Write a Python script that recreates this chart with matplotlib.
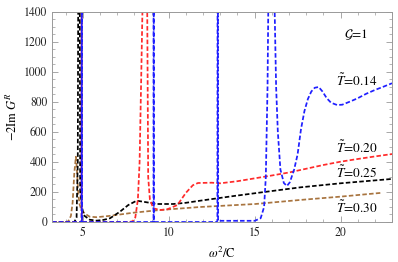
import matplotlib
matplotlib.use("Agg")
import matplotlib.pyplot as plt
from matplotlib.ticker import MultipleLocator

plt.rcParams['font.family'] = ['STIXGeneral', 'DejaVu Serif']
plt.rcParams['mathtext.fontset'] = 'stix'

# ---- data ----
x_014 = [3.2, 4.90, 4.925, 4.935, 4.945, 4.97, 9.08, 9.11, 9.12, 9.13, 9.16,
         12.78, 12.83, 12.85, 12.87, 12.92, 15.0, 15.35, 15.55, 15.65, 15.75, 15.8,
         16.15, 16.25, 16.35, 16.5, 16.7, 16.88, 17.05, 17.3, 17.5, 17.7, 17.9,
         18.1, 18.3, 18.5, 18.73, 18.95, 19.2, 19.45, 19.8, 20.1, 20.6, 21.0,
         21.5, 22.0, 22.5, 23.0]
y_014 = [0, 0, 0, 3000, 0, 0, 0, 0, 3000, 0, 0,
         0, 8, 3000, 8, 8, 8, 25, 100, 300, 900, 1500,
         1500, 900, 600, 350, 260, 240, 265, 350, 450, 620, 740,
         820, 870, 895, 900, 870, 825, 795, 780, 782, 805, 825,
         855, 880, 902, 925]

x_020 = [3.2, 4.90, 4.92, 4.93, 4.94, 4.96, 7.7, 7.9, 8.05, 8.2, 8.3, 8.4, 8.48,
         8.74, 8.8, 8.9, 9.1, 9.5, 9.9, 10.5, 11.0, 11.4, 11.7, 12.5, 13.0,
         14.0, 15.0, 16.0, 17.0, 18.0, 19.0, 20.0, 21.0, 22.0, 23.0]
y_020 = [0, 0, 0, 3000, 0, 0, 0, 5, 30, 150, 400, 1000, 1500,
         1500, 300, 150, 91, 80, 84, 113, 195, 245, 260, 262, 258,
         272, 291, 310, 330, 355, 380, 402, 420, 437, 453]

x_025 = [3.2, 4.5, 4.63, 4.70, 4.76, 4.79, 4.84, 5.02, 5.4, 5.8, 6.2, 6.58,
         7.16, 7.64, 8.13, 8.52, 9.3, 10.27, 11.0, 11.83, 13.77, 15.7,
         17.66, 20.0, 23.0]
y_025 = [0, 0, 30, 400, 3000, 3000, 200, 47, 15, 9, 14, 25,
         69, 113, 142, 135, 120, 120, 128, 142, 173, 202,
         231, 258, 287]

x_030 = [3.2, 4.0, 4.15, 4.3, 4.4, 4.5, 4.59, 4.65, 4.72, 4.8, 4.9, 5.0,
         5.12, 5.4, 5.8, 6.5, 6.96, 7.94, 9.5, 11.83, 15.04, 17.66, 20.0, 22.44]
y_030 = [0, 0, 5, 40, 130, 330, 435, 350, 200, 120, 85, 70,
         55, 35, 32, 40, 47, 62, 80, 100, 120, 147, 169, 195]

labels = [r"$\tilde{T}$=0.14", r"$\tilde{T}$=0.20", r"$\tilde{T}$=0.25", r"$\tilde{T}$=0.30"]
label_xy = [(20.93, 940), (20.93, 493), (20.93, 327), (20.93, 93)]
colors = ["#1f1fff", "#ff2a2a", "#000000", "#a8743f"]

x_ticks = [5, 10, 15, 20]
y_ticks = [0, 200, 400, 600, 800, 1000, 1200, 1400]

# ---- figure ----
fig = plt.figure(figsize=(3.98, 2.62), dpi=100)
ax = fig.add_axes([0.1307, 0.1527, 0.8543, 0.8015])

series = [(x_030, y_030), (x_025, y_025), (x_020, y_020), (x_014, y_014)]
cols = [colors[3], colors[2], colors[1], colors[0]]
for (xs, ys), c in zip(series, cols):
    ax.plot(xs, ys, color=c, lw=1.25, dashes=(2.6, 1.3))

ax.set_xlim(3.2, 23.0)
ax.set_ylim(0, 1400)
ax.set_xticks(x_ticks)
ax.set_yticks(y_ticks)
ax.xaxis.set_minor_locator(MultipleLocator(1))
ax.yaxis.set_minor_locator(MultipleLocator(50))
ax.tick_params(which='both', direction='in', colors='#999999', labelcolor='#222222',
               labelsize=8.5, top=True, right=True)
ax.tick_params(which='major', length=4, width=0.6)
ax.tick_params(which='minor', length=2, width=0.5)
for s in ax.spines.values():
    s.set_color('#999999')
    s.set_linewidth(0.7)

ax.set_xlabel(r"$\omega^2$/C", fontsize=9, labelpad=5)
ax.set_ylabel(r"$-2\mathrm{Im}\;G^R$", fontsize=9, labelpad=3)

ax.text(20.88, 1247, r"$\mathcal{G}$=1", fontsize=9.5, ha='center', va='center')
for lab, (lx, ly) in zip(labels, label_xy):
    ax.text(lx, ly, lab, fontsize=9.5, ha='center', va='center')

fig.savefig("out.png", dpi=100)
